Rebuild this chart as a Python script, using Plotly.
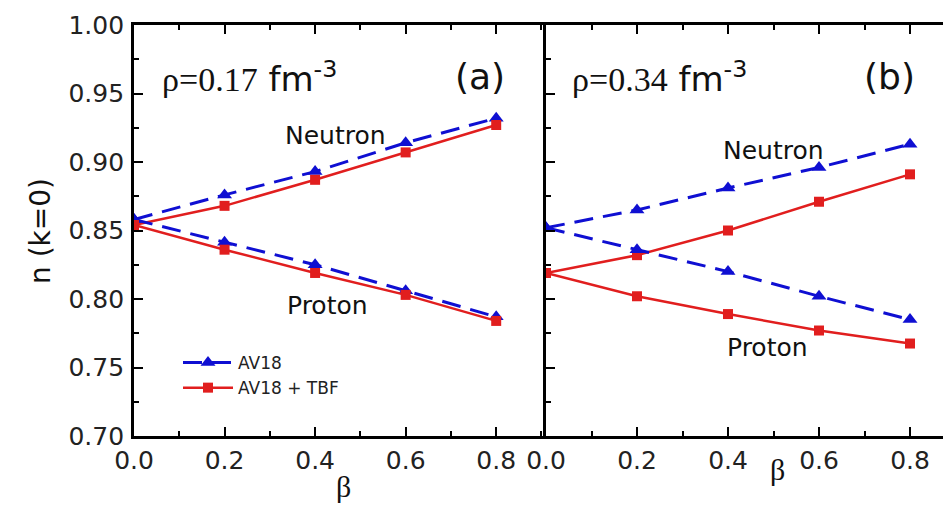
import plotly.graph_objects as go

# ---- data ----
beta = [0.0, 0.2, 0.4, 0.6, 0.8]
# panel (a) rho = 0.17 fm^-3
a_neutron_av18 = [0.858, 0.876, 0.893, 0.914, 0.932]
a_neutron_tbf = [0.854, 0.868, 0.887, 0.907, 0.927]
a_proton_av18 = [0.858, 0.8415, 0.825, 0.806, 0.787]
a_proton_tbf = [0.854, 0.836, 0.819, 0.803, 0.784]
# panel (b) rho = 0.34 fm^-3
b_neutron_av18 = [0.852, 0.865, 0.881, 0.896, 0.913]
b_neutron_tbf = [0.819, 0.832, 0.850, 0.871, 0.891]
b_proton_av18 = [0.852, 0.836, 0.820, 0.802, 0.785]
b_proton_tbf = [0.819, 0.802, 0.789, 0.777, 0.7675]

x_ticks = [0.0, 0.2, 0.4, 0.6, 0.8]
x_ticklabels = ["0.0", "0.2", "0.4", "0.6", "0.8"]
y_ticks = [0.70, 0.75, 0.80, 0.85, 0.90, 0.95, 1.00]
y_ticklabels = ["0.70", "0.75", "0.80", "0.85", "0.90", "0.95", "1.00"]

BLUE = "rgb(15,15,210)"
RED = "rgb(225,30,30)"
SANS = "DejaVu Sans"
SERIF = "Liberation Serif"

W, H = 943, 506
L, R, T, B = 134, 0, 25, 70
PW = W - L - R
PH = H - T - B
split = (546 - L) / PW


def xp(px):
    return (px - L) / PW


def yp(py):
    return (H - B - py) / PH


fig = go.Figure()


def add_pair(xa, ya, av18, tbf, show):
    fig.add_trace(go.Scatter(
        x=beta, y=av18, xaxis=xa, yaxis=ya, mode="lines+markers",
        name="AV18", legendgroup="av18", showlegend=show,
        line=dict(color=BLUE, width=3, dash="19px,10px"),
        marker=dict(symbol="triangle-up", size=13, color=BLUE)))
    fig.add_trace(go.Scatter(
        x=beta, y=tbf, xaxis=xa, yaxis=ya, mode="lines+markers",
        name="AV18 + TBF", legendgroup="tbf", showlegend=show,
        line=dict(color=RED, width=2.5),
        marker=dict(symbol="square", size=10, color=RED)))


add_pair("x", "y", a_neutron_av18, a_neutron_tbf, True)
add_pair("x", "y", a_proton_av18, a_proton_tbf, False)
add_pair("x2", "y2", b_neutron_av18, b_neutron_tbf, False)
add_pair("x2", "y2", b_proton_av18, b_proton_tbf, False)

tickfont = dict(family=SANS, size=25, color="#222")
xcommon = dict(
    tickvals=x_ticks, ticktext=x_ticklabels, ticks="inside", ticklen=9,
    tickwidth=2, tickcolor="black", showline=True, linewidth=2.8,
    linecolor="black", mirror="ticks", showgrid=False, zeroline=False,
    tickfont=tickfont,
    minor=dict(dtick=0.1, tick0=0, ticks="inside", ticklen=5, tickwidth=2,
               tickcolor="black", showgrid=False),
)
fig.update_layout(
    xaxis=dict(domain=[0, split], range=[0, 0.91], anchor="y", **xcommon),
    xaxis2=dict(domain=[split, 1], range=[0, 0.8725], anchor="y2", **xcommon),
    yaxis=dict(domain=[0, 1], range=[0.70, 1.00], anchor="x",
               tickvals=y_ticks, ticktext=y_ticklabels, ticks="inside",
               ticklen=9, tickwidth=2, tickcolor="black", showline=True,
               linewidth=2.8, linecolor="black", showgrid=False,
               zeroline=False, tickfont=tickfont, ticklabelstandoff=2,
               minor=dict(dtick=0.025, tick0=0.7, ticks="inside", ticklen=5,
                          tickwidth=2, tickcolor="black", showgrid=False)),
    yaxis2=dict(domain=[0, 1], range=[0.70, 1.00], anchor="x2",
                tickvals=y_ticks, ticks="inside", showticklabels=False,
                ticklen=9, tickwidth=2, tickcolor="black", showline=True,
                linewidth=2.8, linecolor="black", showgrid=False,
                zeroline=False,
                minor=dict(dtick=0.025, tick0=0.7, ticks="inside", ticklen=5,
                           tickwidth=2, tickcolor="black", showgrid=False)),
    width=W, height=H,
    margin=dict(l=L, r=R, t=T, b=B, pad=0),
    paper_bgcolor="white", plot_bgcolor="white",
    showlegend=True,
    legend=dict(x=xp(178), y=yp(345), xanchor="left", yanchor="top",
                bgcolor="rgba(0,0,0,0)", itemwidth=50, tracegroupgap=0,
                font=dict(family=SANS, size=17, color="#222")),
)

ann = []


def text(px, py, s, size, family=SANS, xanchor="center", angle=0):
    ann.append(dict(x=xp(px), y=yp(py), xref="paper", yref="paper", text=s,
                    showarrow=False, xanchor=xanchor, yanchor="middle",
                    textangle=angle,
                    font=dict(family=family, size=size, color="#111")))


text(335, 135, "Neutron", 25)
text(327, 305, "Proton", 25)
text(773, 150, "Neutron", 25)
text(767, 347, "Proton", 25)
text(480, 77, "(a)", 36)
text(889, 77, "(b)", 36)
rho = ('<span style="font-family:Liberation Serif">ρ=%s</span> fm<sup>-3</sup>')
text(160, 77, rho % "0.17", 34, xanchor="left")
text(570, 77, rho % "0.34", 34, xanchor="left")
text(343, 486, "β", 30, family=SERIF)
text(777, 469, "β", 30, family=SERIF)
text(40, 231, "n (k=0)", 28, angle=-90)
fig.update_layout(annotations=ann)

fig.write_html("out.html")
